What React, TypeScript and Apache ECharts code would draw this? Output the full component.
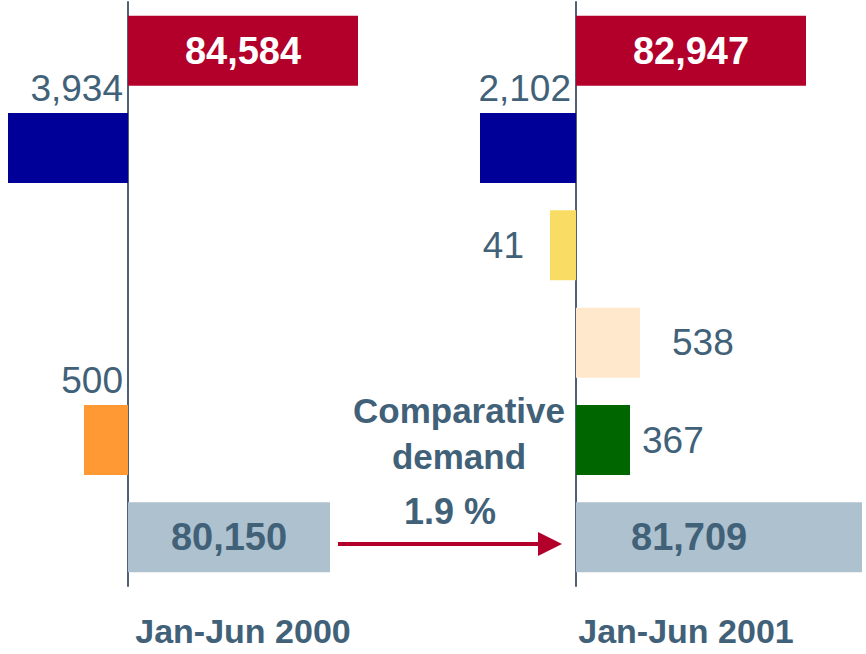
import React, { useEffect, useRef } from 'react';
import * as echarts from 'echarts';

// Rows of each panel, top to bottom (the bottom row is the comparative demand)
const rows = ['Total demand', 'Addition 1', 'Addition 2', 'Deduction 1', 'Deduction 2', 'Comparative demand'];
const periods = ['Jan-Jun 2000', 'Jan-Jun 2001'];

// Values shown on the bars
const values2000: (number | null)[] = [84584, 3934, null, null, 500, 80150];
const values2001: (number | null)[] = [82947, 2102, 41, 538, 367, 81709];

// The source figure is schematic (not to scale): drawn bar length in axis units,
// negative = drawn to the left of the panel's axis line
const drawn2000: (number | null)[] = [23, -12, null, null, -4.4, 20.2];
const drawn2001: (number | null)[] = [23, -9.6, -2.6, 6.4, 5.4, 28.6];

const growthText = '1.9 %';
const noteText = 'Comparative\ndemand';

// styles
const FONT = '"Liberation Sans", Arial, Helvetica, sans-serif';
const SLATE = '#416179';
const RED = '#B3002B';
const AXIS = '#4A6379';
const colors2000 = [RED, '#000099', null, null, '#FF9933', '#AEC1CF'];
const colors2001 = [RED, '#000099', '#F8DC64', '#FFE8CC', '#006600', '#AEC1CF'];
const place2000 = ['inside', 'above', null, null, 'above', 'inside'];
const place2001 = ['inside', 'above', 'left', 'right', 'right', 'insideLeft'];
const dist2001 = [0, 0, 26, 32, 12, 55];

function fmt(v: number) {
  return v.toLocaleString('en-US');
}

function buildData(drawn: (number | null)[], values: (number | null)[], colors: (string | null)[], places: (string | null)[], dists: number[]) {
  return drawn.map((d, i) => {
    if (d == null || values[i] == null) return '-';
    const v = values[i] as number;
    const isTotal = i === 0;
    const isBase = i === rows.length - 1;
    const label: any = {
      show: true,
      formatter: fmt(v),
      fontFamily: FONT,
      fontSize: isTotal || isBase ? 38 : 37,
      fontWeight: isTotal || isBase ? 'bold' : 'normal',
      color: isTotal ? '#FFFFFF' : SLATE,
    };
    const p = places[i];
    if (p === 'inside') {
      label.position = 'inside';
    } else if (p === 'insideLeft') {
      label.position = 'insideLeft';
      label.distance = dists[i];
    } else if (p === 'above') {
      label.position = ['100%', 0];
      label.align = 'right';
      label.verticalAlign = 'bottom';
      label.offset = [-5, -6];
    } else if (p === 'left') {
      label.position = 'left';
      label.distance = dists[i];
    } else if (p === 'right') {
      label.position = 'right';
      label.distance = dists[i];
    }
    return { value: d, itemStyle: { color: colors[i] }, label };
  });
}

export default function App() {
  const ref = useRef<HTMLDivElement>(null);
  useEffect(() => {
    if (!ref.current) return;
    const chart = echarts.init(ref.current, null, { renderer: 'svg' });
    const yAxisBase = {
      type: 'category' as const,
      data: rows,
      inverse: true,
      axisLine: { show: true, onZero: true, lineStyle: { color: AXIS, width: 2 } },
      axisTick: { show: false },
      axisLabel: { show: false },
      splitLine: { show: false },
    };
    const option: any = {
      animation: false,
      backgroundColor: '#FFFFFF',
      grid: [
        { left: 8, top: 2, width: 350, height: 584 },
        { left: 456, top: 2, width: 410, height: 584 },
      ],
      xAxis: [
        { gridIndex: 0, type: 'value', min: -12, max: 23, show: false },
        { gridIndex: 1, type: 'value', min: -12, max: 29, show: false },
      ],
      yAxis: [
        { ...yAxisBase, gridIndex: 0 },
        { ...yAxisBase, gridIndex: 1 },
      ],
      series: [
        {
          type: 'bar',
          name: periods[0],
          xAxisIndex: 0,
          yAxisIndex: 0,
          barWidth: 70,
          data: buildData(drawn2000, values2000, colors2000, place2000, [0, 0, 0, 0, 0, 0]),
        },
        {
          type: 'bar',
          name: periods[1],
          xAxisIndex: 1,
          yAxisIndex: 1,
          barWidth: 70,
          data: buildData(drawn2001, values2001, colors2001, place2001, dist2001),
        },
      ],
      graphic: [
        {
          type: 'line',
          shape: { x1: 338, y1: 544, x2: 542, y2: 544 },
          style: { stroke: RED, lineWidth: 4 },
        },
        {
          type: 'polygon',
          shape: { points: [[538, 532], [562, 544], [538, 556]] },
          style: { fill: RED },
        },
        {
          type: 'text',
          x: 459,
          y: 387,
          style: {
            text: noteText,
            font: `bold 35px ${FONT}`,
            fill: SLATE,
            align: 'center',
            verticalAlign: 'top',
            lineHeight: 46,
          },
        },
        {
          type: 'text',
          x: 450,
          y: 511,
          style: { text: growthText, font: `bold 36px ${FONT}`, fill: SLATE, align: 'center', verticalAlign: 'middle' },
        },
        {
          type: 'text',
          x: 243,
          y: 631,
          style: { text: periods[0], font: `bold 34px ${FONT}`, fill: SLATE, align: 'center', verticalAlign: 'middle' },
        },
        {
          type: 'text',
          x: 686,
          y: 631,
          style: { text: periods[1], font: `bold 34px ${FONT}`, fill: SLATE, align: 'center', verticalAlign: 'middle' },
        },
      ],
    };
    chart.setOption(option);
    return () => chart.dispose();
  }, []);
  return <div ref={ref} style={{ position: 'absolute', left: 0, top: 0, width: 866, height: 654 }} />;
}
